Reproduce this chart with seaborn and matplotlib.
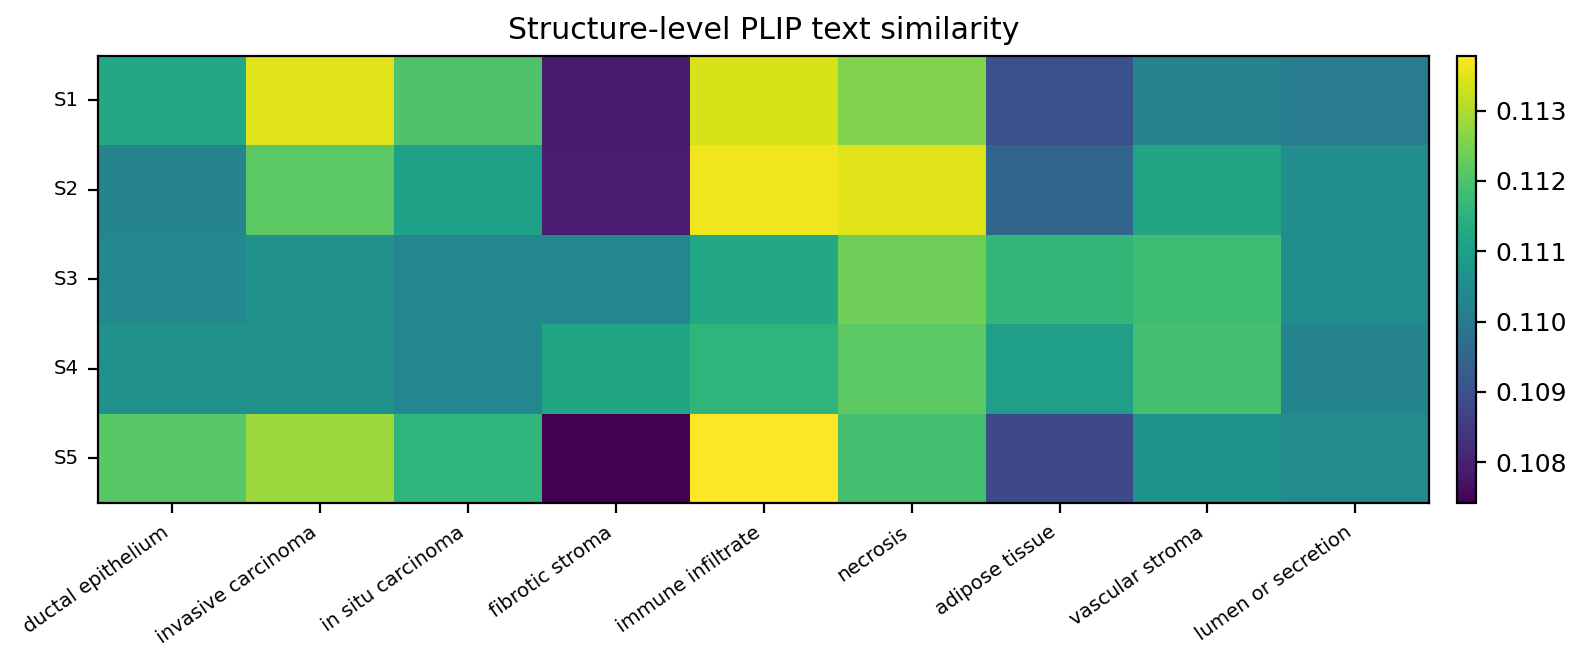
import numpy as np
import pandas as pd
import seaborn as sns
import matplotlib.pyplot as plt

structures = ['ductal epithelium', 'invasive carcinoma', 'in situ carcinoma', 'fibrotic stroma',
              'immune infiltrate', 'necrosis', 'adipose tissue', 'vascular stroma', 'lumen or secretion']
samples = ['S1', 'S2', 'S3', 'S4', 'S5']

s1 = [0.11124, 0.11346, 0.11200, 0.10787, 0.11340, 0.11257, 0.10901, 0.11028, 0.11003]
s2 = [0.11028, 0.11219, 0.11105, 0.10793, 0.11365, 0.11346, 0.10946, 0.11117, 0.11054]
s3 = [0.11041, 0.11060, 0.11035, 0.11035, 0.11124, 0.11238, 0.11162, 0.11181, 0.11054]
s4 = [0.11060, 0.11060, 0.11035, 0.11117, 0.11155, 0.11219, 0.11098, 0.11187, 0.11028]
s5 = [0.11213, 0.11283, 0.11155, 0.10742, 0.11378, 0.11187, 0.10882, 0.11066, 0.11047]

sim = pd.DataFrame([s1, s2, s3, s4, s5], index=samples, columns=structures)

fig = plt.figure(figsize=(7.935, 3.33), dpi=200)
ax = fig.add_axes([0.0619, 0.2447, 0.8387, 0.6716])
cax = fig.add_axes([0.9183, 0.2447, 0.0115, 0.6716])

sns.heatmap(sim, cmap='viridis', ax=ax, cbar_ax=cax, square=False)

for sp in ax.spines.values():
    sp.set_visible(True)
    sp.set_linewidth(0.8)
cb = ax.collections[0].colorbar
cb.outline.set_visible(True)
cb.outline.set_linewidth(0.8)
cb.ax.tick_params(labelsize=9)

ax.set_title('Structure-level PLIP text similarity', fontsize=10.8)
ax.set_xlabel('')
ax.set_ylabel('')
plt.setp(ax.get_xticklabels(), rotation=35, ha='right', fontsize=7.1)
plt.setp(ax.get_yticklabels(), rotation=0, fontsize=7.1)

fig.savefig('out.png', dpi=200)
